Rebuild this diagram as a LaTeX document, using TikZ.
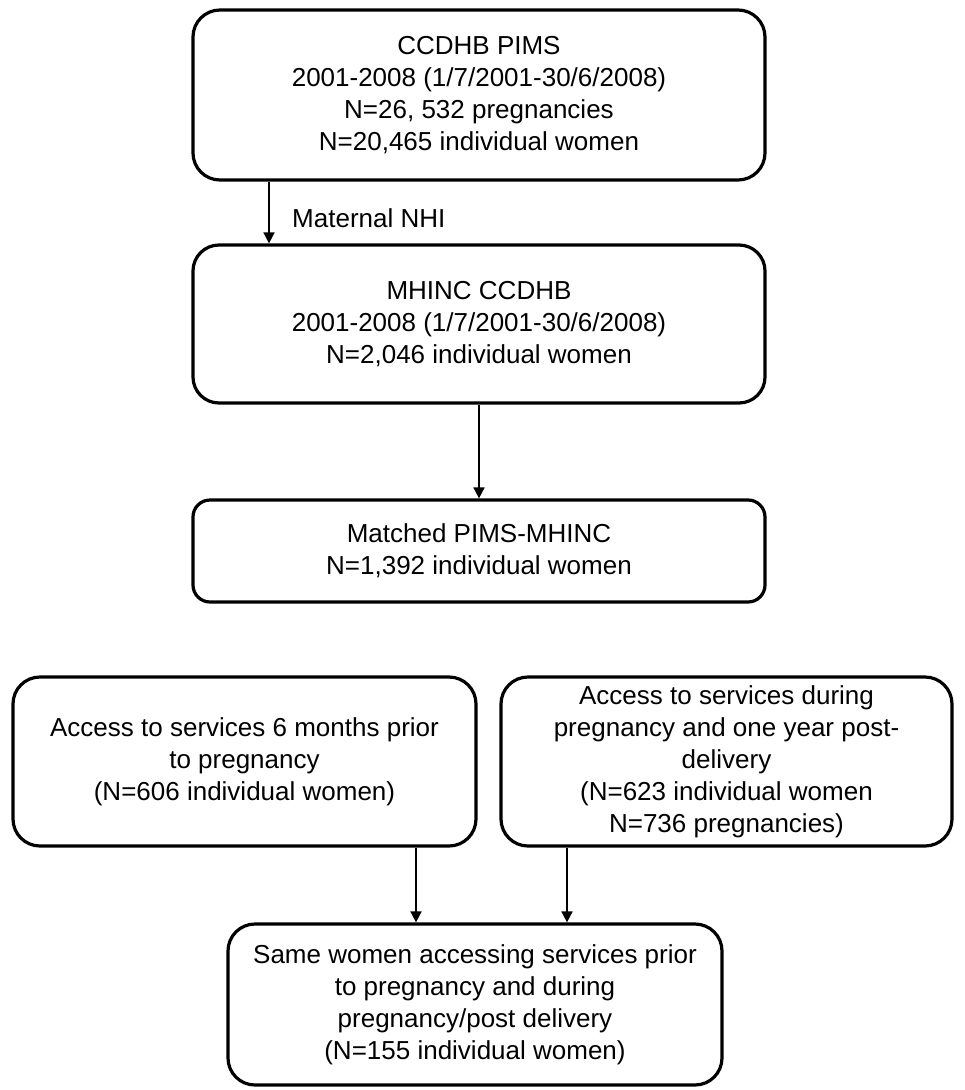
\documentclass[tikz,border=0pt]{standalone}
\usepackage{fontspec}
\setmainfont{Liberation Sans}
\usetikzlibrary{arrows.meta}
\tikzset{
  box/.style={draw=black, line width=3.2pt, align=center, inner sep=0pt,
    font={\fontsize{26}{32}\selectfont}},
  arr/.style={draw=black, line width=1.6pt, -{Triangle[length=11pt,width=11pt]}},
  lbl/.style={font={\fontsize{26}{32}\selectfont}, inner sep=0pt}
}
\begin{document}
\begin{tikzpicture}[x=1pt,y=-1pt]
\useasboundingbox (0,0) rectangle (965,1090);
\node[box, rounded corners=27pt, minimum width=572pt, minimum height=170pt] (b1) at (479,95)
  {CCDHB PIMS\\2001-2008 (1/7/2001-30/6/2008)\\N=26, 532 pregnancies\\N=20,465 individual women};
\node[box, rounded corners=26pt, minimum width=572pt, minimum height=158pt] (b2) at (479,324)
  {MHINC CCDHB\\2001-2008 (1/7/2001-30/6/2008)\\N=2,046 individual women};
\node[box, rounded corners=17pt, minimum width=572pt, minimum height=102pt] (b3) at (479,551)
  {Matched PIMS-MHINC\\N=1,392 individual women};
\node[box, rounded corners=27pt, minimum width=463pt, minimum height=169pt] (b4) at (244.5,761.5)
  {Access to services 6 months prior\\to pregnancy\\(N=606 individual women)};
\node[box, rounded corners=27pt, minimum width=451pt, minimum height=169pt] (b5) at (726.5,761.5)
  {Access to services during\\pregnancy and one year post-\\delivery\\(N=623 individual women\\N=736 pregnancies)};
\node[box, rounded corners=27pt, minimum width=494pt, minimum height=161pt] (b6) at (475,1004.5)
  {Same women accessing services prior\\to pregnancy and during\\pregnancy/post delivery\\(N=155 individual women)};
\node[lbl, anchor=west] (nhi) at (292,218) {Maternal NHI};
\draw[arr] ([xshift=-210pt]b1.south) -- ([xshift=-210pt]b2.north);
\draw[arr] (b2.south) -- (b3.north);
\draw[arr] ([xshift=171.5pt]b4.south) -- ([xshift=171.5pt]b4.south |- b6.north);
\draw[arr] ([xshift=-159.5pt]b5.south) -- ([xshift=-159.5pt]b5.south |- b6.north);
\end{tikzpicture}
\end{document}
